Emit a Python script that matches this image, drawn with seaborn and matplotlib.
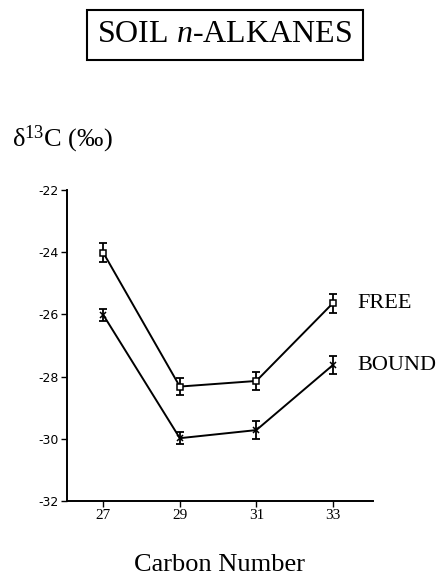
import pandas as pd
import matplotlib.pyplot as plt
import seaborn as sns

# Datos
carbon = [27, 29, 31, 33]
free_vals = [-24.02, -28.32, -28.14, -25.64]
free_err = [0.30, 0.28, 0.28, 0.30]
bound_vals = [-26.02, -29.98, -29.72, -27.63]
bound_err = [0.20, 0.20, 0.30, 0.30]
series_names = ['FREE', 'BOUND']
y_ticks = [-22, -24, -26, -28, -30, -32]

data = pd.DataFrame({
    'carbon': carbon * 2,
    'd13c': free_vals + bound_vals,
    'err': free_err + bound_err,
    'serie': [series_names[0]] * 4 + [series_names[1]] * 4,
})
markers = {'FREE': 's', 'BOUND': 'x'}

sns.set_style("ticks")
plt.rcParams['font.family'] = ['Liberation Serif', 'DejaVu Serif']
plt.rcParams['text.color'] = 'black'
plt.rcParams['mathtext.fontset'] = 'custom'
plt.rcParams['mathtext.rm'] = 'Liberation Serif'
plt.rcParams['mathtext.it'] = 'Liberation Serif:italic'

fig = plt.figure(figsize=(4.42, 5.79), dpi=100)
ax = fig.add_axes([67 / 442, 1 - 501 / 579, (373 - 67) / 442, (501 - 190) / 579])

for name in series_names:
    sub = data[data['serie'] == name]
    sns.lineplot(data=sub, x='carbon', y='d13c', marker=markers[name], color='black',
                 linewidth=1.4, markersize=5, markerfacecolor='white',
                 markeredgecolor='black', markeredgewidth=1.1, legend=False, ax=ax, zorder=3)
    ax.errorbar(sub['carbon'], sub['d13c'], yerr=sub['err'], fmt='none',
                ecolor='black', elinewidth=1.3, capsize=3, capthick=1.3, zorder=1)
    last = sub.iloc[-1]
    ax.text(33.64, last['d13c'], name, fontsize=16, va='center', ha='left', clip_on=False)

ax.set_xlim(26.05, 34.05)
ax.set_ylim(-32, -22)
ax.set_xticks(carbon)
ax.set_yticks(y_ticks)
ax.set_yticklabels([str(t) for t in y_ticks], family='DejaVu Sans', fontsize=9)
ax.set_xticklabels([str(c) for c in carbon], fontsize=11)
ax.tick_params(direction='out', length=4, width=1, colors='black', pad=2)
ax.set_xlabel('')
ax.set_ylabel('')
sns.despine(ax=ax)
for s in ['left', 'bottom']:
    ax.spines[s].set_linewidth(1.4)
    ax.spines[s].set_color('black')

# Titulo en caja, etiqueta del eje y y del eje x
fig.text(225 / 442, 1 - 35 / 579, 'SOIL $\\mathit{n}$-ALKANES', fontsize=23, ha='center', va='center',
         bbox=dict(boxstyle='square,pad=0.32', facecolor='white', edgecolor='black', linewidth=1.5))
fig.text(12 / 442, 1 - 139 / 579, 'δ$^{13}$C ($\\mathit{‰}$)', fontsize=19, ha='left', va='center')
fig.text(220 / 442, 1 - 565 / 579, 'Carbon Number', fontsize=19, ha='center', va='center')

plt.savefig('out.png', dpi=100)
